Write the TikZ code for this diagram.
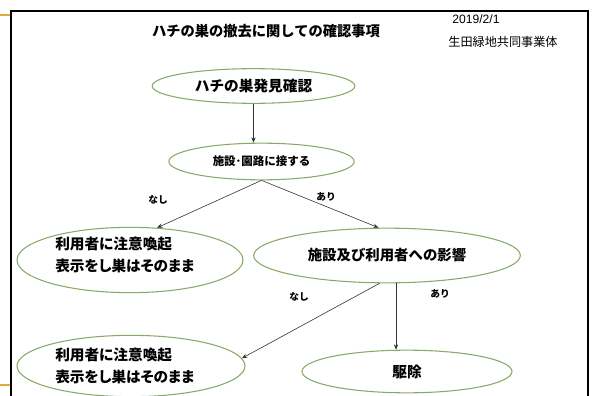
\documentclass[tikz,border=0pt]{standalone}
\usepackage{fontspec}
\setmainfont{Noto Sans CJK JP}
\newfontfamily\latinfont{Liberation Sans}
\newfontfamily\propfont[RawFeature=+palt]{Noto Sans CJK JP}
\usetikzlibrary{shapes.geometric,arrows.meta}
\definecolor{leaf}{RGB}{135,170,105}
\definecolor{tab}{RGB}{222,176,58}
\tikzset{
  oval/.style={draw=leaf,line width=.8pt,ellipse,inner sep=0pt},
  flow/.style={-{Stealth[length=4pt,width=3.2pt]},line width=.45pt,draw=black!80},
  tag/.style={font=\bfseries\fontsize{7.3}{8}\selectfont},
  twoline/.style={font=\propfont\bfseries\fontsize{11}{16.5}\selectfont,align=left,anchor=west,inner sep=0pt}
}
\begin{document}
\begin{tikzpicture}[x=.75pt,y=-.75pt]
\useasboundingbox(0,0)rectangle(597,396);
\draw[line width=1.6pt](11,400)--(11,11)--(588,11)--(588,400);
\draw[tab,line width=.9pt](0,15)--(10,15)(0,385)--(10,385);
\node[font=\bfseries\fontsize{10.7}{12}\selectfont](title)at(266,31){ハチの巣の撤去に関しての確認事項};
\node[font=\latinfont\fontsize{9.1}{10}\selectfont](date)at(476,19){2019/2/1};
\node[font=\fontsize{9.1}{10}\selectfont](org)at(503,42){生田緑地共同事業体};
\node[oval,minimum width=152pt,minimum height=26pt,font=\bfseries\fontsize{11}{12}\selectfont](find)at(253.5,86){ハチの巣発見確認};
\node[oval,minimum width=139pt,minimum height=27.5pt,font=\bfseries\fontsize{8.6}{10}\selectfont](near)at(261.5,161.5){施設･園路に接する};
\node[oval,minimum width=169.5pt,minimum height=49pt](warn1)at(130,260){};
\node[twoline](warn1txt)at(55,255){利用者に注意喚起\\表示をし巣はそのまま};
\node[oval,minimum width=200pt,minimum height=41pt,font=\bfseries\fontsize{10.8}{12}\selectfont](impact)at(387,255.5){施設及び利用者への影響};
\node[oval,minimum width=171pt,minimum height=46pt](warn2)at(131,366){};
\node[twoline](warn2txt)at(55,366){利用者に注意喚起\\表示をし巣はそのまま};
\node[oval,minimum width=157.5pt,minimum height=32pt,font=\bfseries\fontsize{11}{12}\selectfont](remove)at(407,371.5){駆除};
% connectors
\draw[flow](find.south)--(find.south|-near.north);
\draw[flow](near.south)--(warn1.50);
\draw[flow](near.south)--(impact.107);
\draw[flow](impact.255)--(warn2.4);
\draw[flow](impact.288)--(impact.288|-remove.north);
\node[tag](no1)at(158,200){なし};
\node[tag](yes1)at(326,197){あり};
\node[tag](no2)at(299,297){なし};
\node[tag](yes2)at(440,294){あり};
\end{tikzpicture}
\end{document}
